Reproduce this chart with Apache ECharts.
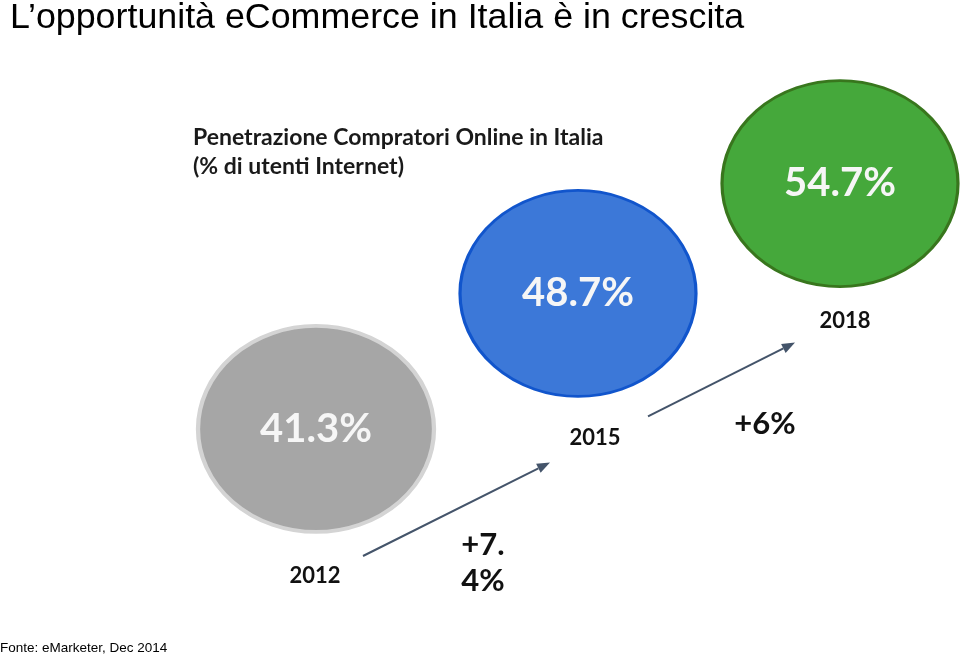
<!DOCTYPE html>
<html>
<head>
<meta charset="utf-8">
<script src="https://cdn.jsdelivr.net/npm/echarts@6/dist/echarts.min.js"></script>
<style>
  html, body { margin: 0; background: #fff; }
  #main { width: 960px; height: 656px; }
</style>
</head>
<body>
<div id="main"></div>
<script>
// dati
const years = ['2012', '2015', '2018'];
const penetration = [41.3, 48.7, 54.7];
const growth = ['+7.\n4%', '+6%'];

// stile
const fills = ['#a6a6a6', '#3c78d8', '#45a83b'];
const borders = ['#d4d4d4', '#1155cc', '#38761d'];
const borderWidths = [4, 3, 3];
const yearOffsets = [[-1, 147], [17, 144], [5, 137]];
const arrowStart = [[47, 127], [70, 123]];
const arrowEnd = [[-28, 169], [-45, 159]];
const growthOffsets = [[36, 202], [56, 185]];

const ellipse = 'path://M0,50A50,50,0,1,1,100,50A50,50,0,1,1,0,50Z';
const chart = echarts.init(document.getElementById('main'));

chart.setOption({
  animation: false,
  title: [
    {
      text: 'L’opportunità eCommerce in Italia è in crescita',
      left: 10, top: 0, padding: 0,
      textStyle: { fontFamily: 'Liberation Sans', fontSize: 35.8, fontWeight: 'normal', color: '#000' }
    },
    {
      text: 'Penetrazione Compratori Online in Italia\n(% di utenti Internet)',
      left: 193, top: 123, padding: 0,
      textStyle: { fontFamily: 'Lato', fontSize: 23, fontWeight: 'bold', lineHeight: 29, color: '#1a1a1a' }
    },
    {
      text: 'Fonte: eMarketer, Dec 2014',
      left: 0, top: 641, padding: 0,
      textStyle: { fontFamily: 'Liberation Sans', fontSize: 13.5, fontWeight: 'normal', color: '#000' }
    }
  ],
  grid: { left: 316, right: 120, top: 86.5, bottom: 203.2 },
  xAxis: { type: 'category', data: years, boundaryGap: false, show: false },
  yAxis: { type: 'value', min: 40, max: 60, show: false },
  series: [
    {
      type: 'scatter',
      symbol: ellipse,
      symbolSize: [236, 206],
      data: penetration.map((v, i) => ({
        value: v,
        itemStyle: { color: fills[i], borderColor: borders[i], borderWidth: borderWidths[i], opacity: 1 }
      })),
      label: {
        show: true,
        position: 'inside',
        formatter: p => p.value + '%',
        fontFamily: 'Lato', fontWeight: 'bold', fontSize: 40, color: '#f6f6f6'
      },
      emphasis: { disabled: true }
    },
    {
      type: 'scatter',
      symbolSize: 1,
      itemStyle: { color: 'rgba(0,0,0,0)', opacity: 1 },
      data: penetration.map((v, i) => ({ value: v, label: { offset: yearOffsets[i] } })),
      label: {
        show: true,
        position: 'inside',
        formatter: p => years[p.dataIndex],
        fontFamily: 'Lato', fontWeight: 'bold', fontSize: 22, color: '#111'
      },
      emphasis: { disabled: true }
    }
  ]
});

// frecce e crescita
const pts = penetration.map((v, i) => chart.convertToPixel({ seriesIndex: 0 }, [i, v]));
const graphics = [];
growth.forEach((g, i) => {
  const x1 = pts[i][0] + arrowStart[i][0], y1 = pts[i][1] + arrowStart[i][1];
  const x2 = pts[i + 1][0] + arrowEnd[i][0], y2 = pts[i + 1][1] + arrowEnd[i][1];
  const ang = Math.atan2(y2 - y1, x2 - x1);
  const len = 13, half = 5;
  const bx = x2 - len * Math.cos(ang), by = y2 - len * Math.sin(ang);
  graphics.push({
    type: 'line',
    shape: { x1: x1, y1: y1, x2: bx, y2: by },
    style: { stroke: '#44546a', lineWidth: 2 }
  });
  graphics.push({
    type: 'polygon',
    shape: { points: [
      [x2, y2],
      [bx + half * Math.sin(ang), by - half * Math.cos(ang)],
      [bx - half * Math.sin(ang), by + half * Math.cos(ang)]
    ] },
    style: { fill: '#44546a' }
  });
  const mx = (pts[i][0] + pts[i + 1][0]) / 2 + growthOffsets[i][0];
  const my = (pts[i][1] + pts[i + 1][1]) / 2 + growthOffsets[i][1];
  graphics.push({
    type: 'text',
    x: mx, y: my,
    style: {
      text: g, align: 'center', verticalAlign: 'middle',
      fontFamily: 'Lato', fontWeight: 'bold', fontSize: 31, lineHeight: 36, fill: '#111'
    }
  });
});
chart.setOption({ graphic: graphics });
</script>
</body>
</html>
